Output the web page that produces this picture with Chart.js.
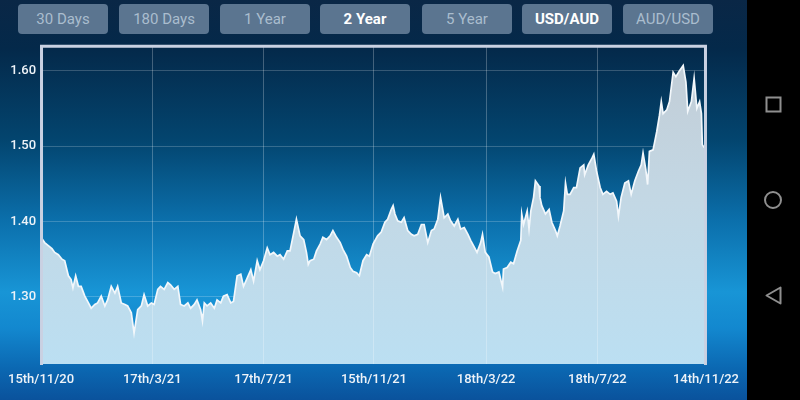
<!DOCTYPE html>
<html>
<head>
<meta charset="utf-8">
<script src="https://cdn.jsdelivr.net/npm/chart.js@4.4.0/dist/chart.umd.min.js"></script>
<style>
  html, body { margin: 0; padding: 0; }
  body {
    width: 800px; height: 400px; overflow: hidden; position: relative;
    font-family: Roboto, "Noto Sans", sans-serif;
    background: #000;
  }
  #app {
    position: absolute; left: 0; top: 0; width: 747px; height: 400px;
    background: linear-gradient(to bottom, #0a2746 0%, #04294a 12%, #03456f 35%, #0b6fab 55%, #1895d6 73%, #1388cf 82%, #0b68b2 92%, #0a529c 100%);
  }
  .btn {
    position: absolute; top: 4px; height: 30px; width: 90px;
    border-radius: 4px; background: #5b7590;
    color: #aabdce; font-size: 15px; line-height: 30px; text-align: center;
  }
  .btn.on { color: #ffffff; font-weight: bold; }
  #chartBox { position: absolute; left: 0; top: 33px; width: 747px; height: 367px; }
  #nav { position: absolute; left: 747px; top: 0; width: 53px; height: 400px; background: #000; }
</style>
</head>
<body>
<div id="app">
  <div class="btn" style="left:18px">30 Days</div>
  <div class="btn" style="left:119px">180 Days</div>
  <div class="btn" style="left:220px">1 Year</div>
  <div class="btn on" style="left:320px">2 Year</div>
  <div class="btn" style="left:422px">5 Year</div>
  <div class="btn on" style="left:522px">USD/AUD</div>
  <div class="btn" style="left:623px">AUD/USD</div>
  <div id="chartBox"><canvas id="rateChart" width="747" height="367"></canvas></div>
</div>
<div id="nav">
  <svg width="53" height="400">
    <rect x="19.5" y="97.5" width="14" height="14" fill="none" stroke="#8f8f8f" stroke-width="2"/>
    <circle cx="26" cy="200" r="8" fill="none" stroke="#8f8f8f" stroke-width="2"/>
    <polygon points="19.5,295.5 33.5,287.5 33.5,303.5" fill="none" stroke="#8f8f8f" stroke-width="2" stroke-linejoin="round"/>
  </svg>
</div>
<script>
// days since 15th/11/20 and the USD/AUD rate
const days = [
  0, 4, 8, 12, 15, 19, 23, 26, 30, 33, 35, 38, 41, 44, 48, 52, 55, 59, 62, 66,
  70, 73, 77, 81, 84, 88, 92, 95, 99, 102, 106, 110, 113, 117, 121, 124, 128, 131, 135, 139,
  142, 146, 150, 153, 157, 161, 164, 168, 171, 175, 177, 179, 182, 186, 190, 193, 197, 200, 204, 208,
  211, 215, 219, 222, 226, 230, 233, 237, 240, 244, 248, 251, 255, 259, 262, 266, 270, 273, 277, 280,
  284, 288, 291, 293, 295, 299, 302, 306, 309, 313, 317, 320, 324, 328, 331, 335, 339, 342, 346, 349,
  353, 357, 360, 364, 369, 373, 377, 380, 384, 386, 388, 391, 395, 398, 402, 406, 409, 413, 417, 420,
  424, 428, 431, 435, 438, 442, 446, 449, 453, 457, 460, 464, 468, 471, 475, 478, 482, 484, 487, 491,
  495, 498, 502, 506, 507, 511, 515, 518, 522, 526, 527, 529, 533, 535, 537, 540, 542, 546, 547, 549,
  553, 557, 560, 564, 566, 569, 573, 575, 577, 580, 584, 587, 591, 595, 596, 600, 604, 606, 609, 613,
  616, 620, 624, 627, 631, 633, 636, 640, 644, 647, 651, 655, 658, 660, 663, 665, 667, 671, 675, 678,
  680, 682, 686, 689, 693, 696, 700, 704, 707, 709, 713, 716, 719, 722, 724, 725, 727
];
const rates = [
  1.379, 1.372, 1.368, 1.364, 1.359, 1.356, 1.350, 1.348, 1.328, 1.323, 1.312, 1.328, 1.314, 1.314, 1.301, 1.292, 1.285, 1.290, 1.292, 1.301,
  1.288, 1.296, 1.314, 1.305, 1.314, 1.292, 1.290, 1.288, 1.279, 1.252, 1.283, 1.288, 1.303, 1.288, 1.292, 1.290, 1.310, 1.314, 1.310, 1.319,
  1.316, 1.310, 1.314, 1.290, 1.288, 1.292, 1.285, 1.290, 1.296, 1.283, 1.268, 1.292, 1.288, 1.292, 1.285, 1.296, 1.292, 1.301, 1.303, 1.292,
  1.294, 1.328, 1.330, 1.314, 1.325, 1.336, 1.321, 1.348, 1.336, 1.348, 1.365, 1.356, 1.359, 1.354, 1.356, 1.350, 1.361, 1.361, 1.385, 1.403,
  1.381, 1.376, 1.359, 1.343, 1.348, 1.350, 1.361, 1.370, 1.379, 1.376, 1.381, 1.388, 1.379, 1.372, 1.363, 1.354, 1.339, 1.334, 1.332, 1.328,
  1.348, 1.356, 1.354, 1.370, 1.381, 1.386, 1.399, 1.403, 1.416, 1.421, 1.410, 1.401, 1.399, 1.405, 1.388, 1.383, 1.381, 1.383, 1.396, 1.396,
  1.372, 1.388, 1.390, 1.403, 1.432, 1.405, 1.410, 1.401, 1.394, 1.403, 1.390, 1.392, 1.383, 1.375, 1.366, 1.359, 1.372, 1.383, 1.359, 1.353,
  1.333, 1.331, 1.333, 1.313, 1.337, 1.339, 1.346, 1.344, 1.361, 1.375, 1.410, 1.396, 1.414, 1.390, 1.414, 1.432, 1.454, 1.447, 1.432, 1.421,
  1.410, 1.416, 1.399, 1.388, 1.381, 1.394, 1.414, 1.451, 1.436, 1.436, 1.445, 1.445, 1.471, 1.475, 1.462, 1.475, 1.484, 1.489, 1.467, 1.445,
  1.436, 1.440, 1.436, 1.438, 1.427, 1.407, 1.432, 1.451, 1.454, 1.436, 1.454, 1.467, 1.475, 1.491, 1.469, 1.449, 1.493, 1.495, 1.519, 1.541,
  1.559, 1.543, 1.548, 1.559, 1.598, 1.592, 1.600, 1.607, 1.585, 1.546, 1.559, 1.590, 1.550, 1.559, 1.543, 1.502, 1.498
];
const tickDays = [0, 122, 244, 365, 488, 610, 729];
const tickLabels = ['15th/11/20', '17th/3/21', '17th/7/21', '15th/11/21', '18th/3/22', '18th/7/22', '14th/11/22'];
const yTicks = [1.30, 1.40, 1.50, 1.60];

const labelFont = { family: 'Roboto', size: 13, weight: '500' };

// light frame on the left, top and right of the plot
const framePlugin = {
  id: 'frame',
  afterDraw(chart) {
    const a = chart.chartArea, c = chart.ctx;
    c.save();
    c.strokeStyle = '#c9d1e2';
    c.lineWidth = 3;
    c.beginPath();
    c.moveTo(a.left + 0.5, a.bottom + 1);
    c.lineTo(a.left + 0.5, a.top + 0.5);
    c.lineTo(a.right - 0.5, a.top + 0.5);
    c.lineTo(a.right - 0.5, a.bottom + 1);
    c.stroke();
    c.restore();
  }
};

const ctx = document.getElementById('rateChart').getContext('2d');
new Chart(ctx, {
  type: 'line',
  data: {
    datasets: [{
      data: days.map((d, i) => ({ x: d, y: rates[i] })),
      borderColor: '#f2f7fb',
      borderWidth: 1.7,
      pointRadius: 0,
      tension: 0,
      fill: 'start',
      backgroundColor: (c) => {
        const a = c.chart.chartArea;
        if (!a) return '#c0dcec';
        const g = c.chart.ctx.createLinearGradient(0, a.top, 0, a.bottom);
        g.addColorStop(0, '#c2ccd5');
        g.addColorStop(0.5, '#c3d8e5');
        g.addColorStop(1, '#bbdff2');
        return g;
      }
    }]
  },
  options: {
    responsive: false,
    animation: false,
    devicePixelRatio: 1,
    layout: { padding: { top: 5, right: 35, left: 0, bottom: 0 } },
    plugins: { legend: { display: false }, tooltip: { enabled: false } },
    scales: {
      x: {
        type: 'linear',
        min: 0,
        max: 729,
        afterBuildTicks: (s) => { s.ticks = tickDays.map(v => ({ value: v })); },
        afterFit: (s) => { s.height = 36; },
        ticks: {
          autoSkip: false,
          maxRotation: 0,
          padding: 8,
          color: '#eef3f8',
          font: labelFont,
          callback: (v, i) => tickLabels[i]
        },
        grid: {
          z: 1,
          drawTicks: false,
          color: (c) => (c.index === 0 || c.index === tickDays.length - 1) ? 'rgba(0,0,0,0)' : 'rgba(255,255,255,0.25)'
        },
        border: { display: false }
      },
      y: {
        min: 1.211,
        max: 1.633,
        afterBuildTicks: (s) => { s.ticks = yTicks.map(v => ({ value: v })); },
        afterFit: (s) => { s.width = 41; },
        ticks: {
          padding: 5,
          color: '#eef3f8',
          font: labelFont,
          callback: (v) => v.toFixed(2)
        },
        grid: { drawTicks: false, color: 'rgba(255,255,255,0.2)' },
        border: { display: false }
      }
    }
  },
  plugins: [framePlugin]
});
</script>
</body>
</html>
